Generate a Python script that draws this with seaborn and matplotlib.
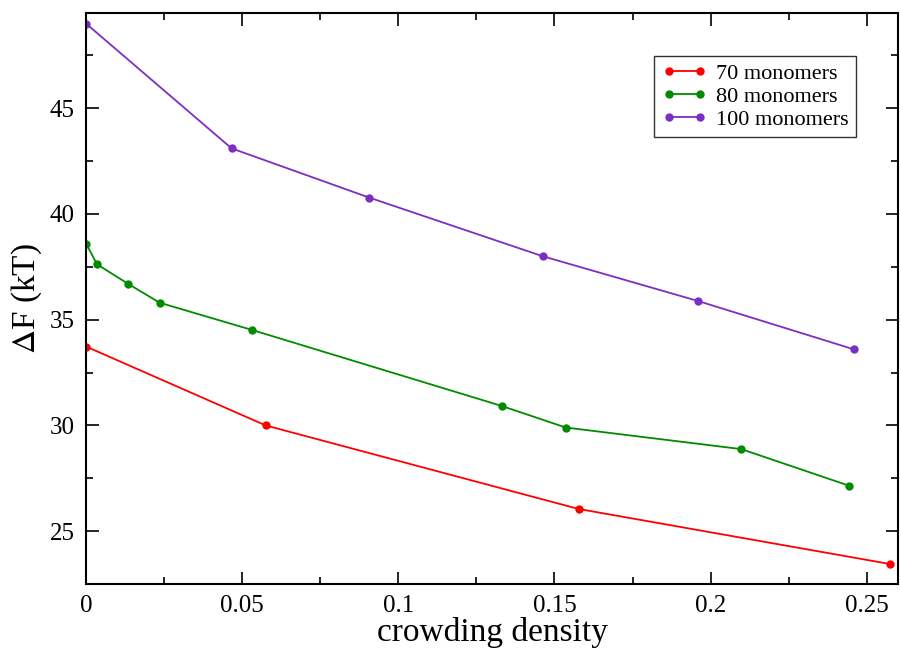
import numpy as np
import pandas as pd
import seaborn as sns
import matplotlib
matplotlib.use("Agg")
import matplotlib.pyplot as plt
from matplotlib.ticker import MultipleLocator
from matplotlib.lines import Line2D

# data
x70 = [0.0, 0.0575, 0.1577, 0.2573]
y70 = [33.73, 30.0, 26.05, 23.45]
x80 = [0.0, 0.0035, 0.0134, 0.0236, 0.053, 0.1331, 0.1536, 0.2098, 0.2443]
y80 = [38.6, 37.62, 36.7, 35.8, 34.52, 30.92, 29.9, 28.88, 27.15]
x100 = [0.0, 0.0466, 0.0907, 0.1462, 0.196, 0.2458]
y100 = [49.0, 43.1, 40.77, 38.0, 35.88, 33.6]
labels = ["70 monomers", "80 monomers", "100 monomers"]
colors = ["#ff0000", "#008b00", "#7b2fc2"]
xticks = [0, 0.05, 0.1, 0.15, 0.2, 0.25]
xticklabels = ["0", "0.05", "0.1", "0.15", "0.2", "0.25"]

df = pd.concat([
    pd.DataFrame({"x": x70, "y": y70, "series": labels[0]}),
    pd.DataFrame({"x": x80, "y": y80, "series": labels[1]}),
    pd.DataFrame({"x": x100, "y": y100, "series": labels[2]}),
], ignore_index=True)

sns.set_style("ticks")
plt.rcParams['font.family'] = ['Liberation Serif', 'DejaVu Serif']
plt.rcParams['mathtext.fontset'] = 'stix'
for k in ['text.color', 'axes.labelcolor', 'xtick.color', 'ytick.color', 'axes.edgecolor']:
    plt.rcParams[k] = 'black'

fig = plt.figure(figsize=(9.01, 6.5), dpi=100)
ax = fig.add_axes([0.0955, 0.1015, 0.9012, 0.8785])

sns.lineplot(data=df, x="x", y="y", hue="series", palette=dict(zip(labels, colors)),
             hue_order=labels, marker="o", markersize=6, markeredgewidth=0,
             linewidth=1.3, sort=False, estimator=None, ax=ax, legend=False)

ax.set_xlim(0, 0.26)
ax.set_ylim(22.5, 49.5)
ax.xaxis.set_minor_locator(MultipleLocator(0.025))
ax.yaxis.set_major_locator(MultipleLocator(5))
ax.yaxis.set_minor_locator(MultipleLocator(2.5))
ax.set_xticks(xticks)
ax.set_xticklabels(xticklabels)
ax.tick_params(which="both", direction="in", top=True, right=True, labelsize=18,
               width=1.2, pad=8, colors="black")
ax.tick_params(which="major", length=9)
ax.tick_params(which="minor", length=5)
for s in ax.spines.values():
    s.set_linewidth(1.5)
    s.set_visible(True)
    s.set_color("black")

ax.set_xlabel("crowding density", fontsize=24, labelpad=0)
ax.set_ylabel(r"$\Delta$F (kT)", fontsize=24, labelpad=4)

handles = [Line2D([0], [0], color=c, marker="o", markersize=6, markeredgewidth=0, linewidth=1.3)
           for c in colors]
leg = ax.legend(handles, labels, loc="upper left", bbox_to_anchor=(0.70, 0.925),
                numpoints=2, fontsize=16, frameon=True, fancybox=False,
                handlelength=2.0, handletextpad=0.4, labelspacing=0.1,
                borderpad=0.35, borderaxespad=0)
leg.get_frame().set_edgecolor("black")
leg.get_frame().set_linewidth(1.0)

fig.savefig("out.png", dpi=100)
